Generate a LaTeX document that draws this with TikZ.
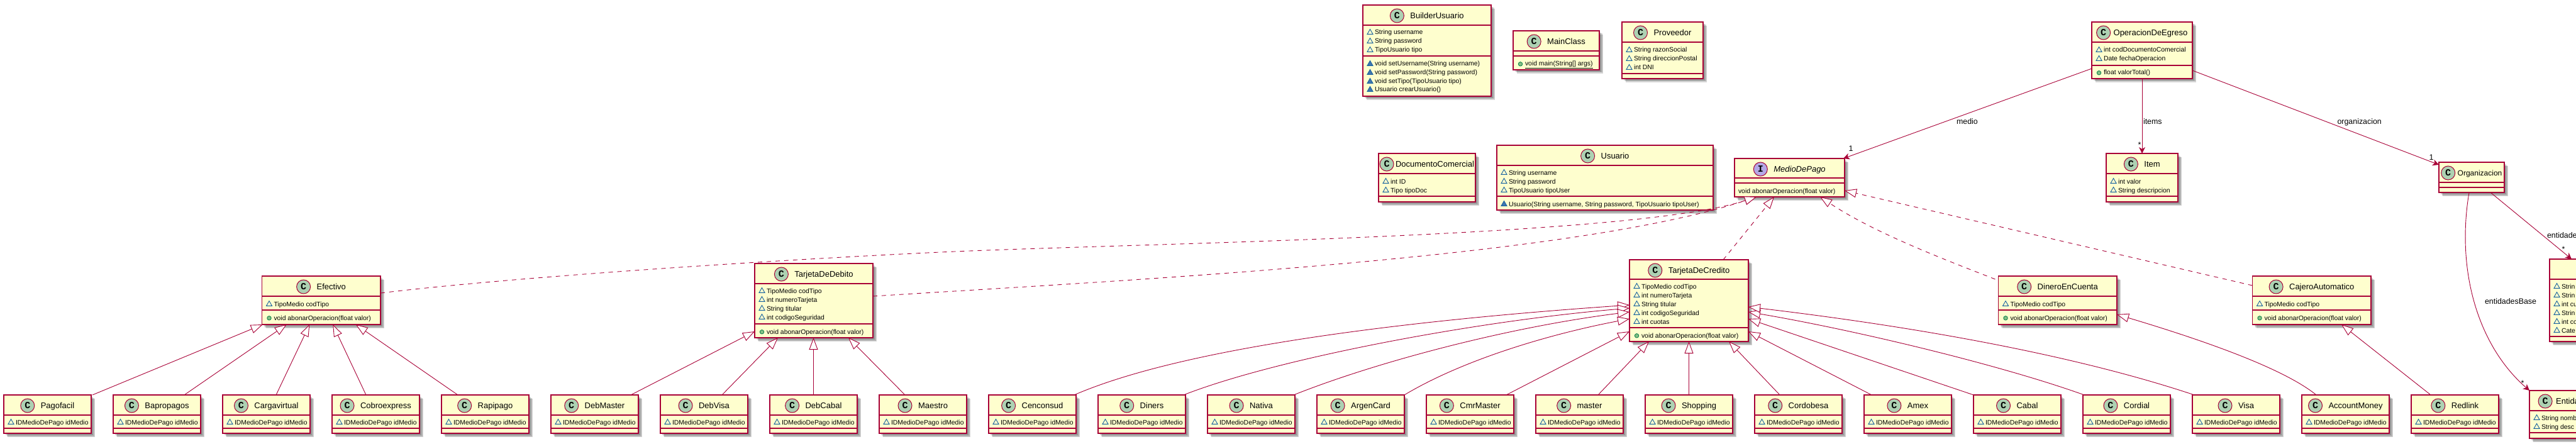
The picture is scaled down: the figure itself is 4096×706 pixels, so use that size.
\documentclass[tikz,border=0pt]{standalone}
\usepackage{fontspec}
\setmainfont{Liberation Sans}
\newfontfamily\spotfont{Liberation Mono}
\usetikzlibrary{arrows.meta,positioning,shapes.geometric}

\definecolor{umlred}{HTML}{A80036}
\definecolor{umlfill}{HTML}{FEFECE}
\definecolor{spotgreen}{HTML}{ADD1B2}
\definecolor{spotviolet}{HTML}{B4A7E5}
\definecolor{iconblue}{HTML}{1963A0}
\definecolor{iconfill}{HTML}{4177AF}
\definecolor{pubgreen}{HTML}{038048}
\definecolor{pubfill}{HTML}{84BE84}

\tikzset{
  classnode/.style={draw=umlred, fill=umlfill, line width=1.2pt, outer sep=0pt, inner sep=0pt, anchor=north west},
  classshade/.style={fill=black, opacity=0.16},
  classedge/.style={draw=umlred, line width=1.2pt},
  titletext/.style={inner sep=0pt, outer sep=0pt, text height=11pt, text depth=2.4pt, font=\fontsize{13}{15}\selectfont},
  rowtext/.style={inner sep=0pt, outer sep=0pt, anchor=base west, font=\fontsize{10.4}{12}\selectfont},
  spot/.style={circle, draw=umlred, line width=1pt, minimum size=22pt, inner sep=0pt, outer sep=0pt,
    font=\spotfont\bfseries\fontsize{15}{15}\selectfont},
  classspot/.style={spot, fill=spotgreen},
  interfacespot/.style={spot, fill=spotviolet},
  pkgopen/.style={regular polygon, regular polygon sides=3, minimum size=10.5pt, inner sep=0pt, draw=iconblue, line width=0.9pt},
  pkgfull/.style={pkgopen, fill=iconfill},
  pubicon/.style={circle, minimum size=6.5pt, inner sep=0pt, draw=pubgreen, fill=pubfill, line width=0.8pt},
  linklabel/.style={inner sep=0pt, outer sep=0pt, anchor=base west, font=\fontsize{12.4}{14}\selectfont},
  multlabel/.style={inner sep=0pt, outer sep=0pt, font=\fontsize{12.4}{14}\selectfont},
  extends/.style={draw=umlred, line width=0.9pt, -{Triangle[fill=white,length=19pt,width=14pt]}},
  realizes/.style={extends, dash pattern=on 7pt off 7pt},
  assoc/.style={draw=umlred, line width=0.9pt, -{Stealth[length=10pt,width=10pt,inset=3pt]}},
}

\def\titlegap{10}
% nombre, izquierda, arriba, derecha, abajo
\newcommand{\classbox}[5]{%
  \def\boxname{#1}\def\boxleft{#2}\def\boxtop{#3}%
  \pgfmathsetmacro\boxmid{((#2)+(#4))/2+(22+\titlegap)/2}%
  \foreach \off in {3,4.5,6}{\fill[classshade] (#2+\off,#3+\off) rectangle (#4+\off,#5+\off);}
  \node[classnode, minimum width={((#4)-(#2))*1pt}, minimum height={((#5)-(#3))*1pt}] (#1) at (#2,#3) {};
}
\newcommand{\classtitle}[3][classspot]{%
  \node[titletext] (\boxname-title) at (\boxmid,\boxtop+17) {#3};
  \node[#1, left=\titlegap pt of \boxname-title] (\boxname-spot) {#2};
}
\newcommand{\classrule}[1]{\draw[classedge] (\boxname.west |- 0,#1) -- (\boxname.east |- 0,#1);}
\newcommand{\classrow}[3]{%
  \node[#2] (\boxname-i#1) at (\boxleft+11.5,#1+0.8) {};
  \node[rowtext] (\boxname-r#1) at (\boxleft+19,#1+4) {#3};
}

\begin{document}
\begin{tikzpicture}[x=1pt,y=-1pt]
  \useasboundingbox (0,0) rectangle (4096,706);

  % Clases sueltas
  \classbox{BuilderUsuario}{2167}{8}{2371}{153}
  \classtitle{C}{BuilderUsuario}
  \classrule{40}
  \classrule{89}
  \classrow{51}{pkgopen}{String username}
  \classrow{65}{pkgopen}{String password}
  \classrow{79}{pkgopen}{TipoUsuario tipo}
  \classrow{101}{pkgfull}{void setUsername(String username)}
  \classrow{115}{pkgfull}{void setPassword(String password)}
  \classrow{129}{pkgfull}{void setTipo(TipoUsuario tipo)}
  \classrow{142}{pkgfull}{Usuario crearUsuario()}

  \classbox{MainClass}{2406}{49}{2543}{111}
  \classtitle{C}{MainClass}
  \classrule{81}
  \classrule{89}
  \classrow{101}{pubicon}{\underline{void main(String[] args)}}

  \classbox{Proveedor}{2579}{35}{2708}{125}
  \classtitle{C}{Proveedor}
  \classrule{67}
  \classrule{117}
  \classrow{79}{pkgopen}{String razonSocial}
  \classrow{93}{pkgopen}{String direccionPostal}
  \classrow{107}{pkgopen}{int DNI}

  \def\titlegap{3}
  \classbox{DocumentoComercial}{2192}{244}{2346}{321}
  \classtitle{C}{DocumentoComercial}
  \classrule{276}
  \classrule{312}
  \classrow{288}{pkgopen}{int ID}
  \classrow{302}{pkgopen}{Tipo tipoDoc}
  \def\titlegap{10}

  \classbox{Usuario}{2380}{231}{2724}{334}
  \classtitle{C}{Usuario}
  \classrule{263}
  \classrule{312}
  \classrow{274}{pkgopen}{String username}
  \classrow{288}{pkgopen}{String password}
  \classrow{302}{pkgopen}{TipoUsuario tipoUser}
  \classrow{324}{pkgfull}{Usuario(String username, String password, TipoUsuario tipoUser)}

  % Interfaz
  \classbox{MedioDePago}{2758}{252}{2933}{313}
  \classtitle[interfacespot]{I}{\textit{MedioDePago}}
  \classrule{283}
  \classrule{291}
  \node[rowtext] (MedioDePago-r303) at (2764,307) {void abonarOperacion(float valor)};

  % Operacion e items
  \def\titlegap{5}
  \classbox{OperacionDeEgreso}{3326}{35}{3486}{125}
  \classtitle{C}{OperacionDeEgreso}
  \def\titlegap{10}
  \classrule{67}
  \classrule{104}
  \classrow{79}{pkgopen}{int codDocumentoComercial}
  \classrow{93}{pkgopen}{Date fechaOperacion}
  \classrow{115}{pubicon}{float valorTotal()}

  \classbox{Item}{3349}{244}{3463}{321}
  \classtitle{C}{Item}
  \classrule{276}
  \classrule{312}
  \classrow{288}{pkgopen}{int valor}
  \classrow{302}{pkgopen}{String descripcion}

  \def\titlegap{4}
  \classbox{Organizacion}{3878}{258}{3982}{306}
  \classtitle{C}{\fontsize{12}{14}\selectfont Organizacion}
  \def\titlegap{10}
  \classrule{290}
  \classrule{298}

  % Cortadas por el borde
  \classbox{EntidadCortada}{4054}{412}{4200}{543}
  \classrule{444}
  \classrule{535}
  \classrow{455}{pkgopen}{Strin}
  \classrow{469}{pkgopen}{Strin}
  \classrow{483}{pkgopen}{int cu}
  \classrow{497}{pkgopen}{Strin}
  \classrow{511}{pkgopen}{int co}
  \classrow{525}{pkgopen}{Cate}

  \def\titlegap{6}
  \classbox{EntidadBase}{4022}{621}{4115}{697}
  \classtitle{C}{Entida}
  \def\titlegap{10}
  \classrule{653}
  \classrule{688}
  \classrow{664}{pkgopen}{String nomb}
  \classrow{678}{pkgopen}{String desc}

  % Medios de pago
  \classbox{Efectivo}{416.5}{439}{605}{516}
  \classtitle{C}{Efectivo}
  \classrule{471}
  \classrule{493}
  \classrow{483}{pkgopen}{TipoMedio codTipo}
  \classrow{505}{pubicon}{void abonarOperacion(float valor)}

  \classbox{TarjetaDeDebito}{1200}{419}{1388}{537}
  \classtitle{C}{TarjetaDeDebito}
  \classrule{451}
  \classrule{515}
  \classrow{462}{pkgopen}{TipoMedio codTipo}
  \classrow{476}{pkgopen}{int numeroTarjeta}
  \classrow{490}{pkgopen}{String titular}
  \classrow{504}{pkgopen}{int codigoSeguridad}
  \classrow{527}{pubicon}{void abonarOperacion(float valor)}

  \classbox{TarjetaDeCredito}{2591}{413}{2780}{543}
  \classtitle{C}{TarjetaDeCredito}
  \classrule{444}
  \classrule{521}
  \classrow{455}{pkgopen}{TipoMedio codTipo}
  \classrow{469}{pkgopen}{int numeroTarjeta}
  \classrow{483}{pkgopen}{String titular}
  \classrow{497}{pkgopen}{int codigoSeguridad}
  \classrow{511}{pkgopen}{int cuotas}
  \classrow{533}{pubicon}{void abonarOperacion(float valor)}

  \classbox{DineroEnCuenta}{3177.5}{439}{3366}{516}
  \classtitle{C}{DineroEnCuenta}
  \classrule{471}
  \classrule{493}
  \classrow{483}{pkgopen}{TipoMedio codTipo}
  \classrow{505}{pubicon}{void abonarOperacion(float valor)}

  \classbox{CajeroAutomatico}{3581.5}{439}{3770}{516}
  \classtitle{C}{CajeroAutomatico}
  \classrule{471}
  \classrule{493}
  \classrow{483}{pkgopen}{TipoMedio codTipo}
  \classrow{505}{pubicon}{void abonarOperacion(float valor)}

  % Fila de abajo
  \foreach \leaf [count=\n from 0] in {Pagofacil,Bapropagos,Cargavirtual,Cobroexpress,Rapipago,
      DebMaster,DebVisa,DebCabal,Maestro,Cenconsud,Diners,Nativa,ArgenCard,CmrMaster,master,
      Shopping,Cordobesa,Amex,Cabal,Cordial,Visa,AccountMoney,Redlink}{
    \pgfmathtruncatemacro\leafx{6+174*\n}
    \classbox{\leaf}{\leafx}{628}{\leafx+139}{689}
    \classtitle{C}{\leaf}
    \classrule{660}
    \classrule{681}
    \classrow{671}{pkgopen}{IDMedioDePago idMedio}
  }

  % Herencia de Efectivo
  \draw[extends] ([xshift=71.5pt]Pagofacil.north) -- ([xshift=-93pt]Efectivo.south);
  \draw[extends] ([xshift=43.5pt]Bapropagos.north) -- ([xshift=-55pt]Efectivo.south);
  \draw[extends] ([xshift=15.5pt]Cargavirtual.north) -- ([xshift=-18.5pt]Efectivo.south);
  \draw[extends] ([xshift=-15.5pt]Cobroexpress.north) -- ([xshift=18.5pt]Efectivo.south);
  \draw[extends] ([xshift=-43.5pt]Rapipago.north) -- ([xshift=55pt]Efectivo.south);

  % Herencia de TarjetaDeDebito
  \draw[extends] ([xshift=57.5pt]DebMaster.north) -- ([yshift=10pt]TarjetaDeDebito.south west);
  \draw[extends] ([xshift=28.5pt]DebVisa.north) -- ([xshift=-57pt]TarjetaDeDebito.south);
  \draw[extends] (DebCabal.north) -- (DebCabal.north |- TarjetaDeDebito.south);
  \draw[extends] ([xshift=-28.5pt]Maestro.north) -- ([xshift=55pt]TarjetaDeDebito.south);

  % Herencia de TarjetaDeCredito
  \draw[extends] ([xshift=66.5pt]Cenconsud.north) .. controls (1900,545) and (2300,505) .. ([yshift=-7pt]TarjetaDeCredito.west);
  \draw[extends] ([xshift=66.5pt]Diners.north) .. controls (2030,570) and (2350,510) .. ([yshift=-12pt]TarjetaDeCredito.west);
  \draw[extends] ([xshift=67.5pt]Nativa.north) .. controls (2190,575) and (2400,520) .. ([yshift=-18pt]TarjetaDeCredito.west);
  \draw[extends] ([xshift=69.5pt]ArgenCard.north) .. controls (2330,570) and (2470,530) .. ([yshift=-29pt]TarjetaDeCredito.west);
  \draw[extends] ([xshift=57.5pt]CmrMaster.north) -- ([yshift=-49pt]TarjetaDeCredito.west);
  \draw[extends] ([xshift=29.5pt]master.north) -- ([xshift=-63.5pt]TarjetaDeCredito.south);
  \draw[extends] (Shopping.north) -- (Shopping.north |- TarjetaDeCredito.south);
  \draw[extends] ([xshift=-29.5pt]Cordobesa.north) -- ([xshift=63.5pt]TarjetaDeCredito.south);
  \draw[extends] ([xshift=-57.5pt]Amex.north) -- ([yshift=-49pt]TarjetaDeCredito.east);
  \draw[extends] ([xshift=-69.5pt]Cabal.north) -- ([yshift=-29pt]TarjetaDeCredito.east);
  \draw[extends] ([xshift=-67.5pt]Cordial.north) .. controls (3180,580) and (2950,525) .. ([yshift=-18pt]TarjetaDeCredito.east);
  \draw[extends] ([xshift=-66.5pt]Visa.north) .. controls (3300,565) and (3050,520) .. ([yshift=-10pt]TarjetaDeCredito.east);

  % Los otros dos
  \draw[extends] ([xshift=-46.5pt]AccountMoney.north) .. controls (3630,585) and (3500,540) .. ([yshift=16pt]DineroEnCuenta.south east);
  \draw[extends] ([xshift=-38.5pt]Redlink.north) -- ([xshift=47.25pt]CajeroAutomatico.south);

  % Implementan MedioDePago
  \draw[realizes] ([yshift=-27pt]Efectivo.north east) .. controls (820,440) and (1250,412) .. (1517,400)
    .. controls (1850,386) and (2600,376) .. ([xshift=35pt]MedioDePago.south west);
  \draw[realizes] ([yshift=-52pt]TarjetaDeDebito.north east) .. controls (1800,445) and (2500,410) .. ([xshift=35pt]MedioDePago.south west);
  \draw[realizes] ([xshift=54.5pt]TarjetaDeCredito.north) -- ([xshift=63pt]MedioDePago.south west);
  \draw[realizes] ([yshift=-5pt,xshift=-5pt]DineroEnCuenta.north west) .. controls (3090,412) and (2980,370) .. ([xshift=136pt]MedioDePago.south west);
  \draw[realizes] ([yshift=-15pt]CajeroAutomatico.north west) -- ([yshift=10pt]MedioDePago.south east);

  % Asociaciones
  \draw[assoc] ([yshift=-74pt]OperacionDeEgreso.north west) -- ([xshift=-2pt]MedioDePago.north east);
  \draw[assoc] (OperacionDeEgreso.south) -- (Item.north);
  \draw[assoc] ([yshift=-77pt]OperacionDeEgreso.north east) -- ([yshift=-4pt]Organizacion.north west);
  \draw[assoc] ([xshift=30pt]Organizacion.south) -- ([xshift=35pt]EntidadCortada.north west);
  \draw[assoc] ([xshift=-4pt]Organizacion.south) .. controls (3905,430) and (3940,550) .. (EntidadBase.north west);

  % Etiquetas
  \node[linklabel] (medio-label) at (3111,197) {medio};
  \node[linklabel] (items-label) at (3408,197) {items};
  \node[linklabel] (organizacion-label) at (3716.5,197) {organizacion};
  \node[linklabel] (entidades-label) at (4050,378) {entidade};
  \node[linklabel] (entidadesBase-label) at (3951,483) {entidadesBase};
  \node[multlabel] (medio-mult) at (2943,236) {1};
  \node[multlabel] (items-mult) at (3402,230) {*};
  \node[multlabel] (organizacion-mult) at (3866,250) {1};
  \node[multlabel] (entidades-mult) at (4076,396) {*};
  \node[multlabel] (entidadesBase-mult) at (4011,609) {*};
\end{tikzpicture}
\end{document}
